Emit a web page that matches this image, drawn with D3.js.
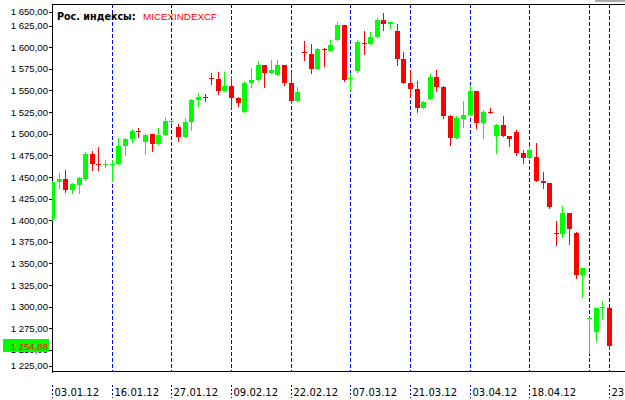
<!DOCTYPE html>
<html><head><meta charset="utf-8">
<script src="https://cdn.jsdelivr.net/npm/d3@7/dist/d3.min.js"></script>
<style>html,body{margin:0;padding:0;background:#fff;overflow:hidden}svg{display:block}</style>
</head><body><svg id="c" width="625" height="400"></svg>
<script>
// ---- data (daily candles, MICEXINDEXCF) ----
const openV  = [1401.9,1445.0,1448.2,1435.5,1441.2,1448.2,1477.1,1465.4,1464.6,1464.6,
  1465.9,1486.3,1494.8,1504.0,1491.0,1500.3,1489.0,1499.1,1514.6,1508.4,
  1496.8,1514.1,1539.6,1543.0,1565.0,1563.9,1549.9,1555.8,1541.9,1526.0,
  1559.2,1562.7,1580.0,1571.2,1568.5,1580.0,1559.6,1538.8,1595.2,1592.8,
  1575.1,1598.6,1596.6,1609.3,1626.3,1564.3,1573.5,1606.0,1604.3,1612.8,
  1632.1,1628.0,1619.4,1587.0,1558.9,1552.3,1530.7,1541.0,1566.2,1554.6,
  1521.0,1496.0,1517.9,1522.2,1549.9,1513.3,1525.6,1497.9,1510.6,1497.9,
  1502.6,1478.2,1472.8,1473.6,1445.8,1443.5,1385.7,1384.6,1408.8,1386.1,
  1337.2,1286.8,1271.6,1300.0,1299.3];
const highV  = [1446.0,1454.7,1458.6,1443.9,1450.1,1479.7,1480.9,1484.8,1470.2,1469.6,
  1495.9,1495.9,1506.0,1507.5,1500.3,1500.6,1506.8,1520.2,1516.5,1511.8,
  1519.1,1541.1,1548.1,1546.5,1571.1,1572.3,1572.3,1567.3,1543.4,1561.6,
  1576.3,1584.7,1580.5,1585.8,1585.8,1580.3,1571.6,1554.9,1608.1,1604.3,
  1600.0,1599.3,1609.3,1630.1,1626.5,1570.4,1608.9,1619.3,1618.6,1634.1,
  1640.2,1629.4,1627.1,1595.4,1573.7,1561.6,1538.4,1569.6,1574.3,1555.8,
  1522.2,1521.0,1538.8,1556.9,1550.2,1528.0,1529.9,1511.8,1521.0,1497.9,
  1504.9,1481.7,1486.3,1490.2,1456.6,1443.5,1400.0,1417.4,1408.8,1387.2,
  1344.9,1289.0,1299.0,1307.1,1299.3];
const lowV   = [1401.0,1438.1,1433.5,1432.4,1432.4,1447.0,1458.6,1458.6,1461.8,1446.2,
  1465.9,1475.9,1491.3,1497.1,1476.8,1480.9,1489.0,1499.1,1513.5,1492.5,
  1496.8,1504.9,1533.0,1538.8,1558.1,1546.5,1549.9,1531.8,1533.0,1526.0,
  1554.9,1562.7,1554.9,1571.2,1568.5,1556.9,1536.4,1538.8,1585.8,1571.2,
  1575.1,1579.3,1596.6,1609.3,1561.6,1551.1,1572.3,1592.4,1604.3,1612.8,
  1620.5,1622.8,1580.0,1558.9,1543.4,1526.0,1530.7,1541.0,1549.9,1519.1,
  1487.5,1496.0,1508.7,1522.2,1507.5,1496.0,1525.0,1477.9,1498.2,1486.3,
  1475.9,1466.3,1472.8,1445.8,1438.1,1414.3,1371.9,1381.5,1373.0,1334.1,
  1312.1,1246.6,1260.9,1286.3,1251.6];
const closeV = [1445.0,1448.2,1435.5,1442.4,1449.0,1477.1,1465.6,1464.6,1465.2,1465.4,
  1486.3,1494.5,1503.7,1503.4,1499.1,1489.0,1499.1,1515.2,1515.2,1496.8,
  1514.1,1539.6,1543.4,1542.4,1564.4,1550.3,1556.3,1542.3,1536.5,1559.6,
  1562.3,1580.0,1571.2,1574.3,1580.0,1559.6,1538.8,1548.4,1594.6,1575.1,
  1598.2,1597.9,1603.1,1626.3,1562.7,1564.9,1606.2,1605.4,1612.0,1632.1,
  1627.8,1629.4,1587.0,1558.9,1552.3,1530.7,1537.3,1566.2,1554.6,1521.0,
  1496.0,1519.1,1522.2,1549.9,1513.3,1525.7,1525.0,1510.6,1498.2,1494.8,
  1478.2,1472.8,1481.7,1445.8,1443.5,1416.2,1385.1,1408.8,1390.0,1337.2,
  1344.9,1287.4,1299.0,1300.5,1254.88];
const dateLabels    = ["03.01.12","16.01.12","27.01.12","09.02.12","22.02.12","07.03.12","21.03.12","03.04.12","18.04.12","23.05.12"];
const dateLabelBars = [0,9,18,27,36,45,54,63,72,84];
const separatorBars = [9,18,27,36,45,54,63,72,81,84];
const priceTicks = [1650,1625,1600,1575,1550,1525,1500,1475,1450,1425,1400,1375,1350,1325,1300,1275,1250,1225];
const groupName = "Рос. индексы:";
const symbolName = "MICEXINDEXCF";
const lastPrice = 1254.88;

// ---- layout ----
const W = 625, H = 400;
const plotL = 52, plotT = 4, plotB = 372;
const svg = d3.select("#c");
const n = openV.length;
const bars = d3.range(n);

const x = d3.scaleLinear().domain([0, n - 1]).range([52.6, 609.3]);
const y = d3.scaleLinear().domain([1225, 1650]).range([plotB, 4.5]);
const fmt = d3.formatLocale({decimal: ",", thousands: " ", grouping: [3], currency: ["", ""]}).format(",.2f");

// window strip at top
svg.append("rect").attr("x", 595).attr("y", 0).attr("width", 30).attr("height", 2).attr("fill", "#a8a8a8");

// clip for plot
svg.append("defs").append("clipPath").attr("id", "pc")
  .append("rect").attr("x", plotL).attr("y", plotT).attr("width", W - plotL).attr("height", plotB - plotT);

// separators
const sep = svg.append("g");
sep.selectAll("line").data(separatorBars).join("line")
  .attr("x1", d => Math.floor(x(d)) + 0.5).attr("x2", d => Math.floor(x(d)) + 0.5)
  .attr("y1", plotT).attr("y2", plotB)
  .attr("stroke", "#0000ff").attr("stroke-width", 1).attr("stroke-dasharray", "4,2")
  .attr("shape-rendering", "crispEdges");

// frame lines
svg.append("line").attr("x1", plotL).attr("x2", W).attr("y1", 4.5).attr("y2", 4.5)
  .attr("stroke", "#000").attr("shape-rendering", "crispEdges");
svg.append("line").attr("x1", plotL).attr("x2", W).attr("y1", 371.5).attr("y2", 371.5)
  .attr("stroke", "#000").attr("shape-rendering", "crispEdges");
svg.append("line").attr("x1", 52.5).attr("x2", 52.5).attr("y1", 4).attr("y2", 373)
  .attr("stroke", "#000").attr("shape-rendering", "crispEdges");

// candles
const cg = svg.append("g").attr("clip-path", "url(#pc)").attr("shape-rendering", "crispEdges");
const col = i => closeV[i] >= openV[i] ? "#00ff00" : "#ff0000";
cg.selectAll("line.w").data(bars).join("line").attr("class", "w")
  .attr("x1", i => Math.floor(x(i)) + 0.5).attr("x2", i => Math.floor(x(i)) + 0.5)
  .attr("y1", i => Math.round(y(highV[i]))).attr("y2", i => Math.round(y(lowV[i])) + 1)
  .attr("stroke", col);
cg.selectAll("rect.b").data(bars).join("rect").attr("class", "b")
  .attr("x", i => Math.floor(x(i)) - 2).attr("width", 5)
  .attr("y", i => Math.round(y(Math.max(openV[i], closeV[i]))))
  .attr("height", i => Math.max(1, Math.round(y(Math.min(openV[i], closeV[i]))) - Math.round(y(Math.max(openV[i], closeV[i])))))
  .attr("fill", col);

// y axis
const ya = svg.append("g").attr("transform", `translate(${plotL},0)`)
  .call(d3.axisLeft(y).tickValues(priceTicks).tickSize(3).tickPadding(1).tickFormat(fmt));
ya.select(".domain").remove();
ya.selectAll(".tick").attr("transform", d => `translate(0,${Math.min(366, Math.max(12, y(d)))})`);
ya.selectAll(".tick line").attr("stroke", "#000").attr("shape-rendering", "crispEdges");
ya.selectAll(".tick text").attr("fill", "#000").attr("font-family", "'Liberation Sans', Arial, sans-serif")
  .attr("font-size", "9.6px");

// current price label
const py = y(lastPrice);
svg.append("rect").attr("x", 3).attr("y", Math.round(py) - 7).attr("width", 46).attr("height", 13).attr("fill", "#00ff00");
svg.append("text").attr("x", 48).attr("y", py).attr("dy", "0.35em").attr("text-anchor", "end")
  .attr("font-family", "'Liberation Sans', Arial, sans-serif").attr("font-size", "9.6px").attr("fill", "#ff0000")
  .text(fmt(lastPrice));

// x axis labels
const xa = svg.append("g").attr("transform", `translate(0,${plotB})`)
  .call(d3.axisBottom(x).tickValues(dateLabelBars).tickSize(0).tickFormat((d, i) => dateLabels[i]));
xa.select(".domain").remove();
xa.selectAll(".tick").attr("transform", d => `translate(${Math.floor(x(d)) + 0.5},0)`);
xa.selectAll(".tick line").attr("y1", 13).attr("y2", 26).attr("stroke", "#0000ff")
  .attr("stroke-dasharray", "2,2").attr("shape-rendering", "crispEdges");
xa.selectAll(".tick text").attr("x", 2).attr("y", 24).attr("dy", null).attr("text-anchor", "start")
  .attr("fill", "#000").attr("font-family", "'DejaVu Sans', sans-serif").attr("font-size", "10px");

// legend
const lg = svg.append("text").attr("x", 57).attr("y", 19.5)
  .attr("font-family", "'DejaVu Sans', sans-serif").attr("font-size", "9.6px");
lg.append("tspan").attr("font-weight", "bold").attr("fill", "#000").text(groupName);
lg.append("tspan").attr("x", 143).attr("font-family", "'Liberation Sans', Arial, sans-serif")
  .attr("font-size", "9.8px").attr("fill", "#ff0000").text(symbolName);
</script>
</body></html>
